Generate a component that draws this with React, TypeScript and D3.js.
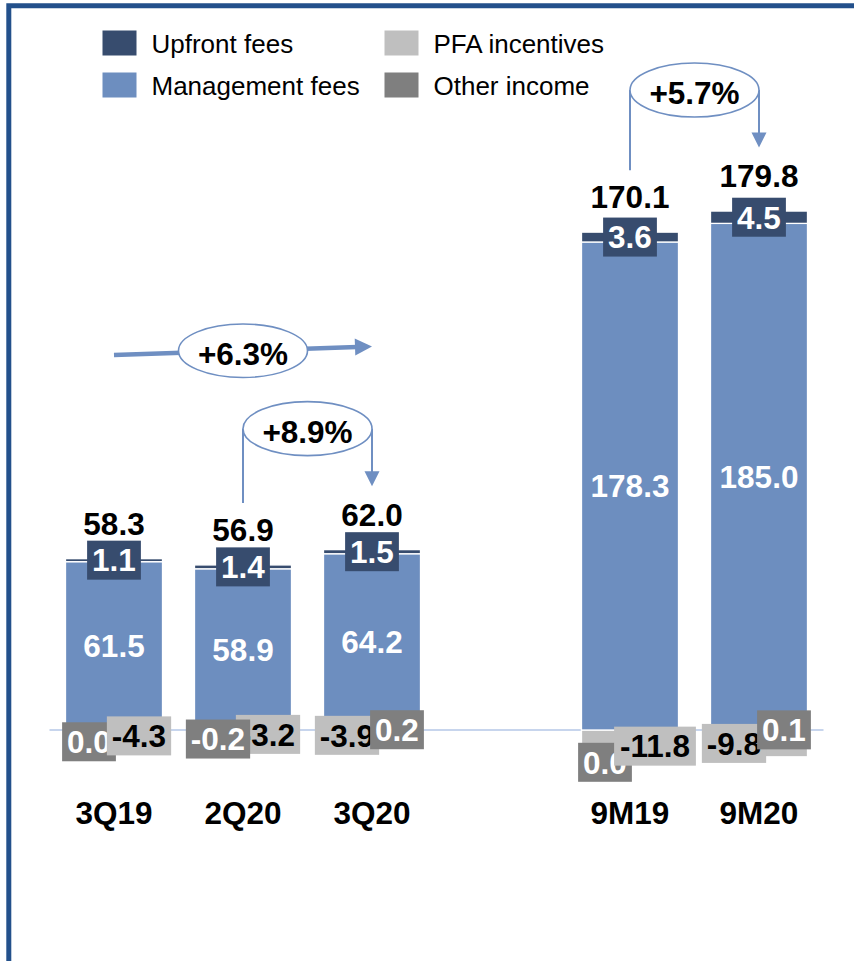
import React from "react";
import * as d3 from "d3";

// ---------- data ----------
const categories = ["3Q19", "2Q20", "3Q20", "9M19", "9M20"];
const slots = ["3Q19", "2Q20", "3Q20", "_gap", "9M19", "9M20"];
const upfrontFees = [1.1, 1.4, 1.5, 3.6, 4.5];
const managementFees = [61.5, 58.9, 64.2, 178.3, 185.0];
const pfaIncentives = [-4.3, -3.2, -3.9, -11.8, -9.8];
const otherIncome = [0.0, -0.2, 0.2, 0.0, 0.1];
const totals = [58.3, 56.9, 62.0, 170.1, 179.8];
const seriesNames = ["Upfront fees", "Management fees", "PFA incentives", "Other income"];
const growthLabels = ["+6.3%", "+8.9%", "+5.7%"];
const growthFrom = ["3Q19", "2Q20", "9M19"];
const growthTo = ["3Q20", "3Q20", "9M20"];

// ---------- layout / style ----------
const W = 854;
const H = 961;
const BASE_Y = 730;
const PX_PER_UNIT = 2.737;
const FONT = "'Liberation Sans', Arial, Helvetica, sans-serif";
const FS = 31.5;
const COLORS: Record<string, string> = {
  upfront: "#374C6E",
  mgmt: "#6D8EBF",
  pfa: "#BFBFBF",
  other: "#7F7F7F",
};
const ARROW = "#6F8FC2";
const BORDER = "#23508B";
// label placement per category (which side the "other income" label sits on, and which label is on top)
const otherSide = [-1, -1, 1, -1, 1];
const pfaOnTop = [true, false, false, true, false];

const charW: Record<string, number> = {
  "0": 0.556, "1": 0.556, "2": 0.556, "3": 0.556, "4": 0.556, "5": 0.556,
  "6": 0.556, "7": 0.556, "8": 0.556, "9": 0.556, ".": 0.278, "-": 0.333,
  "+": 0.584, "%": 0.889,
};
const textW = (s: string, fs: number) =>
  s.split("").reduce((a, c) => a + (charW[c] ?? 0.556), 0) * fs;

const fmt = (v: number) => v.toFixed(1);

export default function App() {
  const x = d3
    .scaleBand<string>()
    .domain(slots)
    .range([49.5, 823.5])
    .paddingInner(0.248)
    .paddingOuter(0.124);
  const y = d3
    .scaleLinear()
    .domain([0, 200])
    .range([BASE_Y, BASE_Y - PX_PER_UNIT * 200]);
  const bw = x.bandwidth();
  const cx = (c: string) => (x(c) as number) + bw / 2;

  // stacking: order PFA, Other, Management, Upfront; values <= 0 go to the negative stack
  const seriesDefs = [
    { key: "pfa", values: pfaIncentives },
    { key: "other", values: otherIncome },
    { key: "mgmt", values: managementFees },
    { key: "upfront", values: upfrontFees },
  ];
  type Seg = { key: string; cat: string; i: number; v: number; y0: number; y1: number };
  const segs: Seg[] = [];
  const tops: number[] = [];
  categories.forEach((cat, i) => {
    let pos = 0;
    let neg = 0;
    seriesDefs.forEach((s) => {
      const v = s.values[i];
      if (v > 0) {
        segs.push({ key: s.key, cat, i, v, y0: pos, y1: pos + v });
        pos += v;
      } else {
        segs.push({ key: s.key, cat, i, v, y0: neg, y1: neg + v });
        neg += v;
      }
    });
    tops.push(pos);
  });
  const seg = (key: string, i: number) => segs.find((s) => s.key === key && s.i === i)!;
  const segMidY = (s: Seg) => y((s.y0 + s.y1) / 2);

  const boxLabel = (
    keyStr: string,
    cxv: number,
    cyv: number,
    text: string,
    fill: string,
    color: string
  ) => {
    const w = textW(text, FS) + 10;
    const h = 39;
    return (
      <g key={keyStr}>
        <rect x={cxv - w / 2} y={cyv - h / 2} width={w} height={h} fill={fill} />
        <text
          x={cxv}
          y={cyv + 0.358 * FS}
          textAnchor="middle"
          fontFamily={FONT}
          fontWeight="bold"
          fontSize={FS}
          fill={color}
        >
          {text}
        </text>
      </g>
    );
  };

  const arrowHead = (tx: number, ty: number, ang: number, len: number, wid: number) => {
    const bx = tx - Math.cos(ang) * len;
    const by = ty - Math.sin(ang) * len;
    const px = -Math.sin(ang) * (wid / 2);
    const py = Math.cos(ang) * (wid / 2);
    return `M${tx},${ty}L${bx + px},${by + py}L${bx - px},${by - py}Z`;
  };

  // legend entries
  const legend = [
    { name: seriesNames[0], color: COLORS.upfront, col: 0, row: 0 },
    { name: seriesNames[1], color: COLORS.mgmt, col: 0, row: 1 },
    { name: seriesNames[2], color: COLORS.pfa, col: 1, row: 0 },
    { name: seriesNames[3], color: COLORS.other, col: 1, row: 1 },
  ];
  const legColX = [102.5, 384.5];
  const legRowY = [30.5, 72.5];

  // horizontal +6.3% arrow
  const hx0 = cx(growthFrom[0]);
  const hx1 = cx(growthTo[0]);
  const hy0 = 355;
  const hy1 = 346.5;
  const hAng = Math.atan2(hy1 - hy0, hx1 - hx0);
  const hMidX = cx("2Q20");
  const hMidY = hy0 + ((hy1 - hy0) * (hMidX - hx0)) / (hx1 - hx0);

  return (
    <div style={{ position: "absolute", left: 0, top: 0 }}>
      <svg width={W} height={H} style={{ display: "block", background: "#fff" }}>
        {/* frame */}
        <path d={`M8.8,${H} L8.8,5.8 L${W},5.8`} fill="none" stroke={BORDER} strokeWidth={5} />

        {/* legend */}
        {legend.map((l) => (
          <g key={l.name}>
            <rect x={legColX[l.col]} y={legRowY[l.row]} width={34} height={25} fill={l.color} />
            <text
              x={legColX[l.col] + 49}
              y={legRowY[l.row] + 12.5 + 10}
              fontFamily={FONT}
              fontSize={26}
              fill="#000"
            >
              {l.name}
            </text>
          </g>
        ))}

        {/* zero line */}
        <line x1={49.5} x2={823.5} y1={BASE_Y} y2={BASE_Y} stroke="#B4C7E7" strokeWidth={1.5} />

        {/* bars */}
        {segs.map((s, k) => (
          <rect
            key={k}
            x={x(s.cat)}
            width={bw}
            y={y(Math.max(s.y0, s.y1))}
            height={Math.abs(y(s.y0) - y(s.y1))}
            fill={COLORS[s.key]}
            stroke="#fff"
            strokeWidth={1.3}
          />
        ))}

        {/* management fee labels */}
        {categories.map((c, i) => (
          <text
            key={"m" + c}
            x={cx(c)}
            y={segMidY(seg("mgmt", i)) + 0.358 * FS}
            textAnchor="middle"
            fontFamily={FONT}
            fontWeight="bold"
            fontSize={FS}
            fill="#fff"
          >
            {fmt(managementFees[i])}
          </text>
        ))}

        {/* upfront labels */}
        {categories.map((c, i) =>
          boxLabel("u" + c, cx(c), segMidY(seg("upfront", i)), fmt(upfrontFees[i]), COLORS.upfront, "#fff")
        )}

        {/* PFA & other labels */}
        {categories.map((c, i) => {
          const o = boxLabel(
            "o" + c,
            cx(c) + otherSide[i] * 25,
            segMidY(seg("other", i)),
            fmt(otherIncome[i]),
            COLORS.other,
            "#fff"
          );
          const p = boxLabel(
            "p" + c,
            cx(c) - otherSide[i] * 25,
            segMidY(seg("pfa", i)),
            fmt(pfaIncentives[i]),
            COLORS.pfa,
            "#000"
          );
          return <g key={"po" + c}>{pfaOnTop[i] ? [o, p] : [p, o]}</g>;
        })}

        {/* totals */}
        {categories.map((c, i) => (
          <text
            key={"t" + c}
            x={cx(c)}
            y={y(tops[i]) - 24}
            textAnchor="middle"
            fontFamily={FONT}
            fontWeight="bold"
            fontSize={FS}
            fill="#000"
          >
            {fmt(totals[i])}
          </text>
        ))}

        {/* category labels */}
        {categories.map((c) => (
          <text
            key={"c" + c}
            x={cx(c)}
            y={824}
            textAnchor="middle"
            fontFamily={FONT}
            fontWeight="bold"
            fontSize={FS}
            fill="#000"
          >
            {c}
          </text>
        ))}

        {/* +6.3% horizontal arrow */}
        <g>
          <line
            x1={hx0}
            y1={hy0}
            x2={hx1 - Math.cos(hAng) * 15}
            y2={hy1 - Math.sin(hAng) * 15}
            stroke={ARROW}
            strokeWidth={4.5}
          />
          <path d={arrowHead(hx1, hy1, hAng, 17, 17)} fill={ARROW} />
          <ellipse cx={hMidX} cy={hMidY} rx={64.5} ry={26.7} fill="#fff" stroke={ARROW} strokeWidth={1.6} />
          <text
            x={hMidX}
            y={hMidY + 3 + 0.358 * FS}
            textAnchor="middle"
            fontFamily={FONT}
            fontWeight="bold"
            fontSize={FS}
            fill="#000"
          >
            {growthLabels[0]}
          </text>
        </g>

        {/* cylinder-style growth arrows */}
        {[1, 2].map((g) => {
          const a = growthFrom[g];
          const b = growthTo[g];
          const ia = categories.indexOf(a);
          const ib = categories.indexOf(b);
          const xa = cx(a);
          const xb = cx(b);
          const tipY = y(tops[ib]) - 63.5;
          const cyv = tipY - 57.5;
          const leftEnd = y(tops[ia]) - 62;
          return (
            <g key={"g" + g}>
              <line x1={xa} x2={xa} y1={cyv} y2={leftEnd} stroke={ARROW} strokeWidth={2} />
              <line x1={xb} x2={xb} y1={cyv} y2={tipY - 13} stroke={ARROW} strokeWidth={2} />
              <path d={arrowHead(xb, tipY, Math.PI / 2, 15, 15)} fill={ARROW} />
              <ellipse
                cx={(xa + xb) / 2}
                cy={cyv}
                rx={(xb - xa) / 2}
                ry={27}
                fill="#fff"
                stroke={ARROW}
                strokeWidth={1.6}
              />
              <text
                x={(xa + xb) / 2}
                y={cyv + 3 + 0.358 * FS}
                textAnchor="middle"
                fontFamily={FONT}
                fontWeight="bold"
                fontSize={FS}
                fill="#000"
              >
                {growthLabels[g]}
              </text>
            </g>
          );
        })}
      </svg>
    </div>
  );
}
